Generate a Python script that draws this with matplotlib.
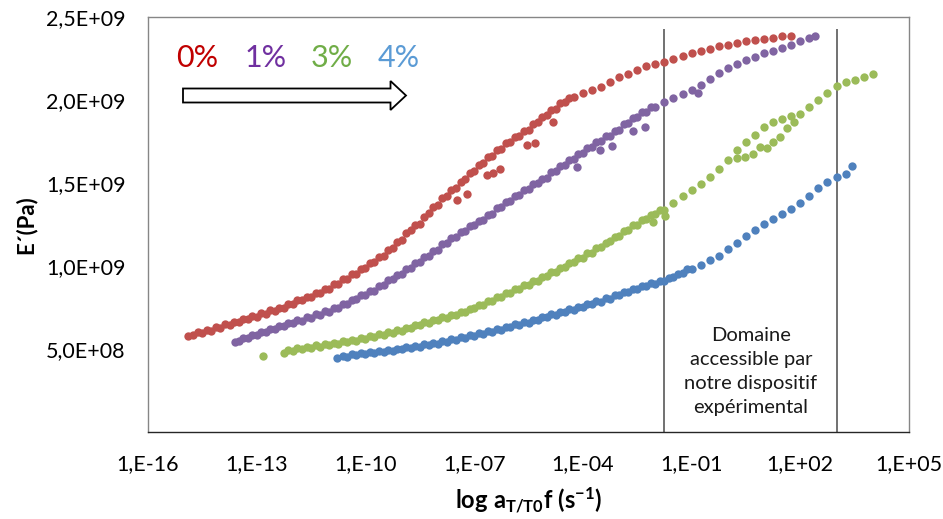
import numpy as np
import matplotlib
matplotlib.use('Agg')
import matplotlib.pyplot as plt
from matplotlib.patches import Polygon
from matplotlib.ticker import NullLocator

plt.rcParams['font.family'] = ['Lato', 'DejaVu Sans']
plt.rcParams['mathtext.fontset'] = 'custom'
plt.rcParams['mathtext.rm'] = 'Lato'
plt.rcParams['mathtext.bf'] = 'Lato:bold'
plt.rcParams['mathtext.it'] = 'Lato:italic'

# ---------------- data (log10 of a_T/T0 f in s^-1, E' in 1e9 Pa) ----------------
# 0 % : main master-curve points
red_logf = [-14.9, -14.75, -14.5, -14.25, -14.0, -13.75, -13.5, -13.25, -13.0, -12.75,
            -12.5, -12.25, -12.0, -11.75, -11.5, -11.25, -11.0, -10.75, -10.5, -10.25,
            -10.0, -9.75, -9.5, -9.25, -9.0, -8.75, -8.5, -8.25, -8.0, -7.75,
            -7.5, -7.25, -7.0, -6.75, -6.5, -6.25, -6.0, -5.75, -5.5, -5.25,
            -5.0, -4.75, -4.5, -4.25, -4.0, -3.75, -3.5, -3.25, -3.0, -2.75,
            -2.5, -2.25, -2.0, -1.75, -1.5, -1.25, -1.0, -0.75, -0.5, -0.25,
            0.0, 0.25, 0.5, 0.75, 1.0, 1.25, 1.5, 1.75]
red_E = [0.578, 0.584, 0.596, 0.611, 0.627, 0.645, 0.660, 0.678, 0.693, 0.711,
         0.729, 0.747, 0.771, 0.795, 0.813, 0.837, 0.864, 0.892, 0.922, 0.952,
         0.985, 1.024, 1.063, 1.111, 1.157, 1.214, 1.253, 1.319, 1.367, 1.422,
         1.470, 1.524, 1.572, 1.620, 1.663, 1.705, 1.747, 1.783, 1.819, 1.867,
         1.907, 1.946, 1.988, 2.018, 2.042, 2.060, 2.081, 2.108, 2.139, 2.157,
         2.178, 2.202, 2.217, 2.229, 2.250, 2.268, 2.283, 2.298, 2.310, 2.325,
         2.334, 2.346, 2.355, 2.364, 2.370, 2.376, 2.383, 2.386]
# 0 % : overlapping isotherm points (upper edge of the dense band)
red_logf2 = [-14.625, -14.375, -14.125, -13.875, -13.625, -13.375, -13.125, -12.875, -12.625, -12.375,
             -12.125, -11.875, -11.625, -11.375, -11.125, -10.875, -10.625, -10.375, -10.125, -9.875,
             -9.625, -9.375, -9.125, -8.875, -8.625, -8.375, -8.125, -7.875, -7.625, -7.375,
             -7.125, -6.875, -6.625, -6.375, -6.125, -5.875, -5.625, -5.375, -5.125, -4.875,
             -4.625, -4.375]
red_E2 = [0.602, 0.616, 0.631, 0.648, 0.665, 0.681, 0.698, 0.714, 0.732, 0.750,
          0.771, 0.795, 0.816, 0.837, 0.863, 0.890, 0.919, 0.949, 0.981, 1.017,
          1.056, 1.099, 1.146, 1.198, 1.246, 1.298, 1.355, 1.407, 1.458, 1.509,
          1.560, 1.608, 1.654, 1.696, 1.738, 1.777, 1.813, 1.855, 1.899, 1.939,
          1.979, 2.015]
# 0 % : isotherm ends lying below the master curve
red_branch_logf = [-7.47, -7.20, -6.65, -6.48, -6.29, -5.54, -5.32, -4.82]
red_branch_E = [1.398, 1.434, 1.548, 1.560, 1.584, 1.729, 1.741, 1.867]

# 1 %
purple_logf = [-13.6, -13.5, -13.25, -13.0, -12.75, -12.5, -12.25, -12.0, -11.75, -11.5,
               -11.25, -11.0, -10.75, -10.5, -10.25, -10.0, -9.75, -9.5, -9.25, -9.0,
               -8.75, -8.5, -8.25, -8.0, -7.75, -7.5, -7.25, -7.0, -6.75, -6.5,
               -6.25, -6.0, -5.75, -5.5, -5.25, -5.0, -4.75, -4.5, -4.25, -4.0,
               -3.75, -3.5, -3.25, -3.0, -2.75, -2.5, -2.25, -2.0, -1.75, -1.5,
               -1.25, -1.0, -0.75, -0.5, -0.25, 0.0, 0.25, 0.5, 0.75, 1.0,
               1.25, 1.5, 1.75, 2.0, 2.25, 2.4]
purple_E = [0.542, 0.548, 0.566, 0.584, 0.602, 0.620, 0.636, 0.654, 0.669, 0.687,
            0.705, 0.723, 0.747, 0.771, 0.801, 0.828, 0.852, 0.883, 0.919, 0.952,
            0.988, 1.027, 1.063, 1.099, 1.139, 1.175, 1.211, 1.244, 1.280, 1.316,
            1.355, 1.392, 1.428, 1.461, 1.497, 1.533, 1.572, 1.608, 1.645, 1.681,
            1.717, 1.753, 1.786, 1.822, 1.864, 1.898, 1.928, 1.958, 1.988, 2.012,
            2.036, 2.060, 2.093, 2.127, 2.160, 2.190, 2.217, 2.241, 2.262, 2.283,
            2.298, 2.316, 2.334, 2.355, 2.373, 2.386]
purple_logf2 = [-13.375, -13.125, -12.875, -12.625, -12.375, -12.125, -11.875, -11.625, -11.375, -11.125,
                -10.875, -10.625, -10.375, -10.125, -9.875, -9.625, -9.375, -9.125, -8.875, -8.625,
                -8.375, -8.125, -7.875, -7.625, -7.375, -7.125, -6.875, -6.625, -6.375, -6.125,
                -5.875, -5.625, -5.375, -5.125, -4.875, -4.625, -4.375, -4.125, -3.875, -3.625,
                -3.375, -3.125, -2.875, -2.625, -2.375, -2.125]
purple_E2 = [0.569, 0.587, 0.605, 0.623, 0.640, 0.657, 0.674, 0.690, 0.708, 0.726,
             0.747, 0.771, 0.798, 0.827, 0.852, 0.880, 0.913, 0.948, 0.982, 1.020,
             1.057, 1.093, 1.131, 1.169, 1.205, 1.240, 1.274, 1.310, 1.348, 1.386,
             1.422, 1.457, 1.491, 1.527, 1.565, 1.602, 1.639, 1.675, 1.711, 1.747,
             1.782, 1.816, 1.855, 1.893, 1.925, 1.955]
purple_branch_logf = [-4.16, -3.53, -3.20, -2.62, -2.29, -0.82]
purple_branch_E = [1.596, 1.699, 1.723, 1.813, 1.837, 2.042]

# 3 %
green_logf = [-12.83, -12.25, -12.0, -11.75, -11.5, -11.25, -11.0, -10.75, -10.5, -10.25,
              -10.0, -9.75, -9.5, -9.25, -9.0, -8.75, -8.5, -8.25, -8.0, -7.75,
              -7.5, -7.25, -7.0, -6.75, -6.5, -6.25, -6.0, -5.75, -5.5, -5.25,
              -5.0, -4.75, -4.5, -4.25, -4.0, -3.75, -3.5, -3.25, -3.0, -2.75,
              -2.5, -2.25, -2.0, -1.75, -1.5, -1.25, -1.0, -0.75, -0.5, -0.25,
              0.0, 0.25, 0.5, 0.75, 1.0, 1.25, 1.5, 1.75, 2.0, 2.25,
              2.5, 2.75, 3.0, 3.25, 3.5, 3.75, 4.0]
green_E = [0.458, 0.476, 0.488, 0.500, 0.509, 0.515, 0.524, 0.533, 0.542, 0.551,
           0.563, 0.575, 0.584, 0.599, 0.611, 0.627, 0.642, 0.657, 0.672, 0.687,
           0.705, 0.720, 0.744, 0.765, 0.789, 0.813, 0.837, 0.861, 0.886, 0.910,
           0.937, 0.964, 0.994, 1.024, 1.051, 1.081, 1.114, 1.148, 1.181, 1.217,
           1.250, 1.283, 1.313, 1.340, 1.377, 1.422, 1.458, 1.494, 1.536, 1.584,
           1.639, 1.696, 1.750, 1.792, 1.837, 1.867, 1.886, 1.901, 1.916, 1.955,
           2.000, 2.042, 2.087, 2.108, 2.120, 2.136, 2.157]
green_logf2 = [-12.125, -11.875, -11.625, -11.375, -11.125, -10.875, -10.625, -10.375, -10.125, -9.875,
               -9.625, -9.375, -9.125, -8.875, -8.625, -8.375, -8.125, -7.875, -7.625, -7.375,
               -7.125, -6.875, -6.625, -6.375, -6.125, -5.875, -5.625, -5.375, -5.125, -4.875,
               -4.625, -4.375, -4.125, -3.875, -3.625, -3.375, -3.125, -2.875, -2.625, -2.375,
               -2.125, -1.875]
green_E2 = [0.492, 0.504, 0.515, 0.522, 0.530, 0.539, 0.548, 0.557, 0.567, 0.579,
            0.590, 0.602, 0.615, 0.629, 0.645, 0.660, 0.675, 0.690, 0.706, 0.723,
            0.742, 0.765, 0.787, 0.811, 0.835, 0.859, 0.884, 0.908, 0.934, 0.961,
            0.989, 1.019, 1.048, 1.076, 1.108, 1.141, 1.175, 1.209, 1.244, 1.277,
            1.308, 1.337]
green_branch_logf = [-2.07, -1.73, 0.24, 0.47, 0.70, 0.89, 1.07, 1.25, 1.44, 1.62, 1.83]
green_branch_E = [1.265, 1.301, 1.649, 1.658, 1.673, 1.715, 1.709, 1.749, 1.779, 1.829, 1.869]

# 4 %
blue_logf = [-10.78, -10.5, -10.25, -10.0, -9.75, -9.5, -9.25, -9.0, -8.75, -8.5,
             -8.25, -8.0, -7.75, -7.5, -7.25, -7.0, -6.75, -6.5, -6.25, -6.0,
             -5.75, -5.5, -5.25, -5.0, -4.75, -4.5, -4.25, -4.0, -3.75, -3.5,
             -3.25, -3.0, -2.75, -2.5, -2.25, -2.0, -1.75, -1.5, -1.25, -1.0,
             -0.75, -0.5, -0.25, 0.0, 0.25, 0.5, 0.75, 1.0, 1.25, 1.5,
             1.75, 2.0, 2.25, 2.5, 2.75, 3.0, 3.25, 3.42]
blue_E = [0.446, 0.452, 0.461, 0.467, 0.473, 0.479, 0.488, 0.497, 0.506, 0.515,
          0.524, 0.533, 0.542, 0.554, 0.566, 0.578, 0.590, 0.602, 0.614, 0.630,
          0.645, 0.657, 0.675, 0.690, 0.705, 0.720, 0.735, 0.753, 0.771, 0.786,
          0.804, 0.825, 0.843, 0.861, 0.877, 0.892, 0.907, 0.931, 0.955, 0.982,
          1.009, 1.036, 1.063, 1.102, 1.139, 1.178, 1.217, 1.253, 1.286, 1.313,
          1.343, 1.380, 1.422, 1.467, 1.506, 1.536, 1.554, 1.602]
blue_logf2 = [-10.625, -10.375, -10.125, -9.875, -9.625, -9.375, -9.125, -8.875, -8.625, -8.375,
              -8.125, -7.875, -7.625, -7.375, -7.125, -6.875, -6.625, -6.375, -6.125, -5.875,
              -5.625, -5.375, -5.125, -4.875, -4.625, -4.375, -4.125, -3.875, -3.625, -3.375,
              -3.125, -2.875, -2.625, -2.375, -2.125, -1.875, -1.625, -1.375, -1.125]
blue_E2 = [0.459, 0.467, 0.474, 0.480, 0.486, 0.494, 0.503, 0.512, 0.521, 0.530,
           0.539, 0.548, 0.558, 0.570, 0.582, 0.594, 0.606, 0.618, 0.632, 0.648,
           0.661, 0.676, 0.693, 0.708, 0.723, 0.738, 0.754, 0.772, 0.789, 0.805,
           0.825, 0.844, 0.862, 0.879, 0.895, 0.910, 0.929, 0.953, 0.979]

x_tick_exps = [-16, -13, -10, -7, -4, -1, 2, 5]
x_tick_labels = ['1,E-16', '1,E-13', '1,E-10', '1,E-07', '1,E-04', '1,E-01', '1,E+02', '1,E+05']
y_ticks = [5.0e8, 1.0e9, 1.5e9, 2.0e9, 2.5e9]
y_tick_labels = ['5,0E+08', '1,0E+09', '1,5E+09', '2,0E+09', '2,5E+09']

domain_logf = [-1.75, 3.02]          # limits of the experimental window
domain_top = 2.43e9

pct_labels = ['0%', '1%', '3%', '4%']
pct_colors = ['#C00000', '#7030A0', '#70AD47', '#5B9BD5']
series_colors = ['#C0504D', '#8064A2', '#9BBB59', '#4F81BD']

# ---------------- figure ----------------
W, H = 943, 519
fig = plt.figure(figsize=(W / 100, H / 100), dpi=100)
ax = fig.add_axes([148 / W, 1 - 432 / H, 761 / W, 415 / H])

series = [(red_logf + red_logf2 + red_branch_logf, red_E + red_E2 + red_branch_E),
          (purple_logf + purple_logf2 + purple_branch_logf, purple_E + purple_E2 + purple_branch_E),
          (green_logf + green_logf2 + green_branch_logf, green_E + green_E2 + green_branch_E),
          (blue_logf + blue_logf2, blue_E + blue_E2)]
for (lf, e), col in zip(series, series_colors):
    ax.scatter(10.0 ** np.array(lf), np.array(e) * 1e9, s=36, color=col,
               linewidths=0, zorder=3)

ax.set_xscale('log')
ax.set_xlim(1e-16, 1e5)
ax.set_ylim(0, 2.5e9)
ax.set_xticks([10.0 ** k for k in x_tick_exps])
ax.set_xticklabels(x_tick_labels)
ax.xaxis.set_minor_locator(NullLocator())
ax.set_yticks(y_ticks)
ax.set_yticklabels(y_tick_labels)
ax.tick_params(length=0, pad=16, labelsize=15.5, colors='black')

for side in ['left', 'top', 'right']:
    ax.spines[side].set_color('#868686')
ax.spines['bottom'].set_color('#262626')
for sp in ax.spines.values():
    sp.set_linewidth(1.0)

ax.vlines([10.0 ** v for v in domain_logf], 0, domain_top, colors='#595959', lw=1.2, zorder=2)
ax.text(10.0 ** np.mean(domain_logf), 0.367e9,
        "Domaine\naccessible par\nnotre dispositif\nexpérimental",
        ha='center', va='center', fontsize=14.5, linespacing=1.5, color='#1a1a1a')

ax.set_ylabel("E´(Pa)", fontsize=16, fontweight='bold')
ax.yaxis.set_label_coords(-0.146, 0.5)
ax.set_xlabel(r'$\mathbf{log\ a_{T/T0}f\ (s^{-1})}$', fontsize=17)
ax.xaxis.set_label_coords(0.5, -0.128)

# percentage labels and arrow
pct_x = [197, 266, 332, 399]
for lab, col, px in zip(pct_labels, pct_colors, pct_x):
    fig.text(px / W, 1 - 58 / H, lab, color=col, fontsize=22, ha='center', va='center')

arrow_px = [(183, 88.5), (390.5, 88.5), (390.5, 81), (406, 95.5),
            (390.5, 110), (390.5, 102.5), (183, 102.5)]
arrow = Polygon([(x / W, 1 - y / H) for x, y in arrow_px], closed=True,
                facecolor='white', edgecolor='black', lw=1.3, transform=fig.transFigure)
fig.patches.append(arrow)

fig.savefig('out.png', dpi=100)
